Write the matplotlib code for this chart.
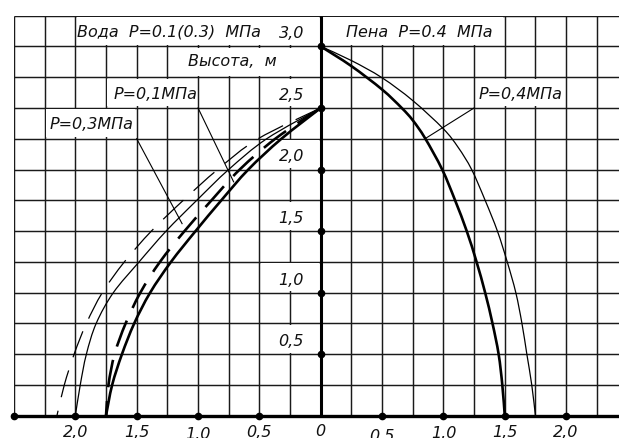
import numpy as np
import matplotlib
matplotlib.use("Agg")
import matplotlib.pyplot as plt
import matplotlib.transforms as mtrans
from matplotlib.path import Path
from matplotlib.patches import PathPatch, Rectangle

plt.rcParams['lines.scale_dashes'] = False

# ---------------- data ----------------
# Water jets (left half, x drawn as negative distance), heights in m
water_h = [2.5, 2.25, 2.0, 1.75, 1.5, 1.25, 1.0, 0.75, 0.5, 0.25, 0.0]
w_thick_solid_x = [0, -0.32, -0.59, -0.81, -1.02, -1.22, -1.39, -1.52, -1.62, -1.70, -1.75]
w_thick_dash_x = [0, -0.37, -0.66, -0.89, -1.11, -1.31, -1.47, -1.59, -1.68, -1.73, -1.75]
w_thin_solid_x = [0, -0.44, -0.75, -1.01, -1.26, -1.48, -1.69, -1.83, -1.91, -1.96, -2.0]
w_thin_dash_x = [0, -0.51, -0.84, -1.12, -1.38, -1.60, -1.78, -1.91, -2.01, -2.09, -2.15]

# Foam jets (right half)
f_thick_x = [0, 0.25, 0.5, 0.66, 0.75, 0.85, 0.99, 1.095, 1.19, 1.27, 1.34, 1.40, 1.45, 1.48, 1.50]
f_thick_h = [3.0, 2.84, 2.65, 2.5, 2.40, 2.255, 2.0, 1.75, 1.5, 1.25, 1.0, 0.75, 0.5, 0.25, 0.0]
f_thin_x = [0, 0.25, 0.5, 0.75, 1.0, 1.12, 1.23, 1.34, 1.44, 1.52, 1.59, 1.64, 1.68, 1.72, 1.75]
f_thin_h = [3.0, 2.885, 2.745, 2.56, 2.33, 2.18, 2.0, 1.75, 1.5, 1.25, 1.0, 0.75, 0.5, 0.25, 0.0]

# axis labels
x_tick_vals = [-2.0, -1.5, -1.0, -0.5, 0.0, 0.5, 1.0, 1.5, 2.0]
x_tick_labels = ["2,0", "1,5", "1,0", "0,5", "0", "0,5", "1,0", "1,5", "2,0"]
x_tick_dy = [0, 0, -2, 0, 1, -3.5, -1.3, 0, 0]          # small drafting offsets (px)
x_dot_vals = [-2.5, -2.0, -1.5, -1.0, -0.5, 0.5, 1.0, 1.5, 2.0, 2.5]
y_tick_vals = [0.5, 1.0, 1.5, 2.0, 2.5, 3.0]
y_tick_labels = ["0,5", "1,0", "1,5", "2,0", "2,5", "3,0"]

title_water = "Вода  P=0.1(0.3)  МПа"
title_foam = "Пена  P=0.4  МПа"
y_title = "Высота,  м"
lab_p01 = "P=0,1МПа"
lab_p03 = "P=0,3МПа"
lab_p04 = "P=0,4МПа"

# ---------------- figure ----------------
W, H = 619, 439
fig = plt.figure(figsize=(W / 100, H / 100), dpi=100)
x0_px, xzero_px, xs = 14.0, 320.7, 122.7      # px positions / scale
ybot_px, ys = 22.3, 123.1
ax = fig.add_axes([x0_px / W, ybot_px / H, (W - x0_px) / W, 3.25 * ys / H])
ax.set_xlim(-2.5, (W - xzero_px) / xs)
ax.set_ylim(0, 3.25)
ax.set_axis_off()

FONT = dict(family="DejaVu Sans", style="oblique", fontsize=11.5, color="#111111")
GC = "#1a1a1a"

# grid
for gx in np.arange(-2.5, 2.51, 0.25):
    ax.plot([gx, gx], [0, 3.25], color=GC, lw=1.05, zorder=1, solid_capstyle="butt")
for gy in np.arange(0.25, 3.26, 0.25):
    ax.plot([-2.5, 2.5], [gy, gy], color=GC, lw=1.05, zorder=1, solid_capstyle="butt")

# white label cells (cover inner grid lines)
e = 0.012
def cell(x1, x2, y1, y2):
    ax.add_patch(Rectangle((x1 + e, y1 + e), x2 - x1 - 2 * e, y2 - y1 - 2 * e,
                           facecolor="white", edgecolor="none", zorder=2))

cell(-2.0, 0.0, 3.0, 3.25)
cell(0.0, 1.5, 3.0, 3.25)
cell(-1.25, 0.0, 2.75, 3.0)
cell(-1.75, -1.0, 2.5, 2.75)
cell(-2.25, -1.5, 2.25, 2.5)
cell(1.25, 2.0, 2.5, 2.75)
for v in y_tick_vals[:-1]:
    cell(-0.5, 0.0, v, v + 0.25)

# main axes
ax.plot([-2.5, 2.6], [0, 0], color="black", lw=2.4, zorder=5, clip_on=False,
        solid_capstyle="butt")
ax.plot([0, 0], [0, 3.25], color="black", lw=2.2, zorder=5, solid_capstyle="butt")
ax.plot(x_dot_vals, [0] * len(x_dot_vals), "o", color="black", ms=4.5, zorder=6,
        clip_on=False)
ax.plot([0] * len(y_tick_vals), y_tick_vals, "o", color="black", ms=4.5, zorder=6)


def smooth(xs_, ys_):
    p = np.column_stack([xs_, ys_]).astype(float)
    n = len(p)
    verts = [p[0]]
    codes = [Path.MOVETO]
    for i in range(n - 1):
        p0 = p[max(i - 1, 0)]
        p1 = p[i]
        p2 = p[i + 1]
        p3 = p[min(i + 2, n - 1)]
        verts += [p1 + (p2 - p0) / 6.0, p2 - (p3 - p1) / 6.0, p2]
        codes += [Path.CURVE4] * 3
    return Path(verts, codes)


def curve(xv, yv, lw, dashed=False):
    ls = (0, (20, 10)) if dashed else "solid"
    ax.add_patch(PathPatch(smooth(xv, yv), facecolor="none", edgecolor="black",
                           lw=lw, linestyle=ls, zorder=4, capstyle="butt"))

curve(w_thick_solid_x, water_h, 1.9)
curve(w_thick_dash_x, water_h, 1.9, dashed=True)
curve(w_thin_solid_x, water_h, 0.9)
curve(w_thin_dash_x, water_h, 0.9, dashed=True)
curve(f_thick_x, f_thick_h, 1.9)
curve(f_thin_x, f_thin_h, 0.9)

# leader lines
ax.plot([-1.0, -0.71], [2.5, 1.90], color="black", lw=0.8, zorder=4)
ax.plot([-1.5, -1.13], [2.25, 1.56], color="black", lw=0.8, zorder=4)
ax.plot([1.25, 0.85], [2.5, 2.25], color="black", lw=0.8, zorder=4)

# texts
ax.text(-1.99, 3.125, title_water, ha="left", va="center", zorder=7, **FONT)
ax.text(0.21, 3.125, title_foam, ha="left", va="center", zorder=7, **FONT)
ax.text(-1.08, 2.885, y_title, ha="left", va="center", zorder=7, **FONT)
ax.text(-1.69, 2.615, lab_p01, ha="left", va="center", zorder=7, **FONT)
ax.text(-2.21, 2.37, lab_p03, ha="left", va="center", zorder=7, **FONT)
ax.text(1.285, 2.615, lab_p04, ha="left", va="center", zorder=7, **FONT)
for v, s in zip(y_tick_vals, y_tick_labels):
    ax.text(-0.24, v + 0.11, s, ha="center", va="center", zorder=7, **FONT)

for v, s, dy in zip(x_tick_vals, x_tick_labels, x_tick_dy):
    off = mtrans.ScaledTranslation(0, (-8.5 + dy) / 100, fig.dpi_scale_trans)
    ax.text(v, 0, s, ha="center", va="top", zorder=7, clip_on=False,
            transform=ax.transData + off, **FONT)

fig.savefig("out.png", dpi=100)
